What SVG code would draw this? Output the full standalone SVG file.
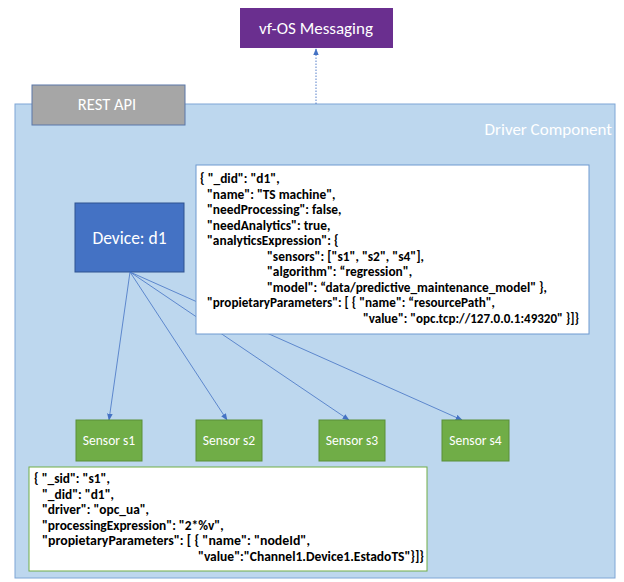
<svg xmlns="http://www.w3.org/2000/svg" width="624" height="582" viewBox="0 0 624 582">
<style>
.lbl{font-family:Calibri,"Liberation Sans",Arial,sans-serif;fill:#ffffff;}
.json{font-family:Calibri,"Liberation Sans",Arial,sans-serif;font-weight:bold;font-size:13.4px;fill:#000000;}
.conn{stroke:#4472c4;stroke-width:0.8;fill:none;}
.sensor rect{fill:#70ad47;stroke:#5a8f38;stroke-width:1;}
</style>
<defs>
<marker id="ah" viewBox="0 0 10 10" refX="9" refY="5" markerWidth="7" markerHeight="7" markerUnits="userSpaceOnUse" orient="auto">
<path d="M0,1 L10,5 L0,9 z" fill="#4472c4"/>
</marker>
</defs>
<rect x="0" y="0" width="624" height="582" fill="#ffffff"/>
<g id="driver">
<rect x="15" y="104" width="600" height="474" fill="#bdd7ee" stroke="#7ea6d6" stroke-width="1"/>
<text class="lbl" x="612" y="135" font-size="17" text-anchor="end" fill="#f0f6fc">Driver Component</text>
</g>
<g id="messaging">
<rect x="240" y="8" width="153" height="40" fill="#6a2f8f"/>
<text class="lbl" x="316" y="33.5" font-size="17" text-anchor="middle">vf-OS Messaging</text>
</g>
<g id="rest">
<rect x="32" y="85" width="153" height="40" fill="#a6a6a6" stroke="#5a77a8" stroke-width="1"/>
<text class="lbl" x="107" y="110" font-size="16.5" text-anchor="middle">REST API</text>
</g>
<g id="device">
<rect x="75" y="203" width="109" height="69" fill="#4472c4" stroke="#2f528f" stroke-width="1"/>
<text class="lbl" x="129.5" y="244" font-size="17.5" text-anchor="middle">Device: d1</text>
</g>
<g id="connectors">
<line x1="316" y1="104" x2="316" y2="49" stroke="#4472c4" stroke-width="0.9" stroke-dasharray="1.5,1.5" marker-end="url(#ah)"/>
<line class="conn" x1="130" y1="272" x2="109" y2="420" marker-end="url(#ah)"/>
<line class="conn" x1="130" y1="272" x2="227" y2="420" marker-end="url(#ah)"/>
<line class="conn" x1="130" y1="272" x2="349" y2="420" marker-end="url(#ah)"/>
<line class="conn" x1="130" y1="272" x2="462" y2="420" marker-end="url(#ah)"/>
</g>
<g id="device-json">
<rect x="196" y="165" width="393" height="169" fill="#ffffff" stroke="#6f9ad0" stroke-width="1"/>
<text class="json" x="200" y="183">{ "_did": "d1",</text>
<text class="json" x="207" y="198.5">"name": "TS machine",</text>
<text class="json" x="207" y="214">"needProcessing": false,</text>
<text class="json" x="207" y="229.5">"needAnalytics": true,</text>
<text class="json" x="207" y="245">"analyticsExpression": {</text>
<text class="json" x="267" y="260.5">"sensors": ["s1", "s2", "s4"],</text>
<text class="json" x="267" y="276">"algorithm": “regression",</text>
<text class="json" x="267" y="291.5" textLength="280" lengthAdjust="spacingAndGlyphs">"model": “data/predictive_maintenance_model" },</text>
<text class="json" x="207" y="307" textLength="288" lengthAdjust="spacingAndGlyphs">"propietaryParameters": [ { "name": “resourcePath",</text>
<text class="json" x="363" y="322.5" textLength="216" lengthAdjust="spacingAndGlyphs">"value": "opc.tcp://127.0.0.1:49320" }]}</text>
</g>
<g id="sensor-s1" class="sensor">
<rect x="76" y="420" width="66" height="41"/>
<text class="lbl" x="109" y="445" font-size="13.5" text-anchor="middle">Sensor s1</text>
</g>
<g id="sensor-s2" class="sensor">
<rect x="196" y="420" width="66" height="41"/>
<text class="lbl" x="229" y="445" font-size="13.5" text-anchor="middle">Sensor s2</text>
</g>
<g id="sensor-s3" class="sensor">
<rect x="319" y="420" width="66" height="41"/>
<text class="lbl" x="352" y="445" font-size="13.5" text-anchor="middle">Sensor s3</text>
</g>
<g id="sensor-s4" class="sensor">
<rect x="442" y="420" width="67" height="41"/>
<text class="lbl" x="475.5" y="445" font-size="13.5" text-anchor="middle">Sensor s4</text>
</g>
<g id="sensor-json">
<rect x="29" y="467" width="398" height="104" fill="#ffffff" stroke="#70ad47" stroke-width="1"/>
<text class="json" x="34" y="483">{ "_sid": "s1",</text>
<text class="json" x="42" y="498.5">"_did": "d1",</text>
<text class="json" x="42" y="514">"driver": "opc_ua",</text>
<text class="json" x="42" y="529.5">"processingExpression": "2*%v",</text>
<text class="json" x="42" y="545" textLength="268" lengthAdjust="spacingAndGlyphs">"propietaryParameters": [ { "name": "nodeId",</text>
<text class="json" x="198" y="560.5" textLength="226" lengthAdjust="spacingAndGlyphs">"value":"Channel1.Device1.EstadoTS"}]}</text>
</g>
</svg>
